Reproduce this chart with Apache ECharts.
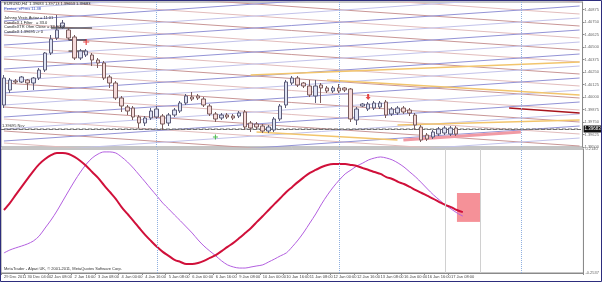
<!DOCTYPE html>
<html>
<head>
<meta charset="utf-8">
<script src="https://cdn.jsdelivr.net/npm/echarts@6.0.0/dist/echarts.min.js"></script>
<style>
html, body { margin: 0; padding: 0; background: #fff; }
#main { width: 602px; height: 282px; }
</style>
</head>
<body>
<div id="main"></div>
<script>
// EURUSD H4 + oscillator pane

// time labels, one every 4 bars
var tickLabels = ['29 Dec 2011', '30 Dec 04:00', '2 Jan 08:00', '2 Jan 16:00', '3 Jan 08:00', '4 Jan 00:00',
  '4 Jan 16:00', '5 Jan 08:00', '6 Jan 00:00', '6 Jan 16:00', '9 Jan 08:00', '10 Jan 00:00', '10 Jan 16:00',
  '11 Jan 08:00', '12 Jan 00:00', '12 Jan 16:00', '13 Jan 08:00', '16 Jan 00:00', '16 Jan 16:00', '17 Jan 08:00'];
var totalSlots = 99;

// candles
var candleOpen = [1.3992, 1.4007, 1.4016, 1.4015, 1.4017, 1.4014, 1.4019, 1.4027, 1.4044, 1.4059,
  1.4070, 1.4067, 1.4060, 1.4039, 1.4042, 1.4042, 1.4037, 1.4034, 1.4020, 1.4014,
  1.3999, 1.3990, 1.3989, 1.3980, 1.3974, 1.3979, 1.3980, 1.3981, 1.3974, 1.3982,
  1.3986, 1.3994, 1.4000, 1.4001, 1.3998, 1.3991, 1.3983, 1.3979, 1.3982, 1.3981,
  1.3981, 1.3985, 1.3974, 1.3973, 1.3971, 1.3966, 1.3967, 1.3978, 1.3992, 1.4014,
  1.4019, 1.4014, 1.4011, 1.4001, 1.4012, 1.4009, 1.4006, 1.4009, 1.4009, 1.4008,
  1.3977, 1.3991, 1.3988, 1.3989, 1.3990, 1.3995, 1.3983, 1.3984, 1.3989, 1.3987,
  1.3982, 1.3970, 1.3962, 1.3960, 1.3963, 1.3964, 1.3963, 1.3969];
var candleClose = [1.4019, 1.4017, 1.4015, 1.4020, 1.4014, 1.4019, 1.4027, 1.4044, 1.4058, 1.4067,
  1.4074, 1.4059, 1.4039, 1.4046, 1.4046, 1.4037, 1.4034, 1.4019, 1.4014, 1.3999,
  1.3991, 1.3986, 1.3980, 1.3974, 1.3979, 1.3986, 1.3988, 1.3973, 1.3982, 1.3987,
  1.3994, 1.4001, 1.3998, 1.3999, 1.3992, 1.3983, 1.3978, 1.3982, 1.3980, 1.3979,
  1.3984, 1.3970, 1.3969, 1.3970, 1.3966, 1.3970, 1.3978, 1.3991, 1.4015, 1.4019,
  1.4012, 1.4011, 1.4002, 1.4011, 1.4009, 1.4006, 1.4009, 1.4006, 1.4007, 1.3978,
  1.3988, 1.3993, 1.3993, 1.3994, 1.3994, 1.3982, 1.3988, 1.3989, 1.3985, 1.3984,
  1.3972, 1.3957, 1.3958, 1.3965, 1.3968, 1.3969, 1.3969, 1.3963];
var candleLow = [1.3989, 1.4004, 1.4013, 1.4014, 1.4007, 1.4007, 1.4017, 1.4025, 1.4042, 1.4057,
  1.4068, 1.4057, 1.4037, 1.4037, 1.4040, 1.4031, 1.4029, 1.4017, 1.4009, 1.3997,
  1.3985, 1.3982, 1.3977, 1.3969, 1.3971, 1.3977, 1.3978, 1.3967, 1.3971, 1.3980,
  1.3984, 1.3992, 1.3996, 1.3997, 1.3990, 1.3981, 1.3975, 1.3977, 1.3978, 1.3977,
  1.3979, 1.3967, 1.3965, 1.3968, 1.3964, 1.3964, 1.3965, 1.3976, 1.3989, 1.4012,
  1.4010, 1.4009, 1.4000, 1.3994, 1.3994, 1.4004, 1.4004, 1.4004, 1.4005, 1.3975,
  1.3972, 1.3990, 1.3986, 1.3987, 1.3988, 1.3979, 1.3981, 1.3982, 1.3983, 1.3981,
  1.3967, 1.3955, 1.3956, 1.3958, 1.3961, 1.3962, 1.3961, 1.3961];
var candleHigh = [1.4022, 1.4019, 1.4018, 1.4021, 1.4018, 1.4020, 1.4029, 1.4045, 1.4062, 1.4082,
  1.4077, 1.4069, 1.4062, 1.4048, 1.4048, 1.4044, 1.4039, 1.4036, 1.4022, 1.4016,
  1.4001, 1.3992, 1.3991, 1.3982, 1.3981, 1.3989, 1.3991, 1.3983, 1.3984, 1.3989,
  1.3996, 1.4003, 1.4005, 1.4003, 1.4000, 1.3993, 1.3985, 1.3984, 1.3984, 1.3983,
  1.3986, 1.3987, 1.3976, 1.3975, 1.3973, 1.3972, 1.3980, 1.3993, 1.4017, 1.4021,
  1.4021, 1.4015, 1.4017, 1.4017, 1.4014, 1.4011, 1.4011, 1.4013, 1.4010, 1.4009,
  1.3990, 1.3994, 1.3995, 1.3996, 1.3996, 1.3997, 1.3990, 1.3991, 1.3991, 1.3989,
  1.3984, 1.3972, 1.3964, 1.3967, 1.3970, 1.3971, 1.3971, 1.3971];

// oscillator pane
var oscRed = [-0.016, 0.010, 0.041, 0.071, 0.101, 0.131, 0.157, 0.176, 0.191, 0.199,
  0.199, 0.195, 0.184, 0.169, 0.150, 0.127, 0.105, 0.078, 0.052, 0.026,
  -0.005, -0.031, -0.057, -0.084, -0.110, -0.133, -0.155, -0.174, -0.189, -0.204,
  -0.212, -0.220, -0.220, -0.216, -0.208, -0.197, -0.186, -0.171, -0.155, -0.140,
  -0.122, -0.103, -0.084, -0.061, -0.039, -0.016, 0.007, 0.029, 0.052, 0.071,
  0.090, 0.108, 0.124, 0.135, 0.146, 0.154, 0.157, 0.157, 0.157, 0.154,
  0.150, 0.142, 0.135, 0.127, 0.120, 0.108, 0.101, 0.090, 0.082, 0.071,
  0.059, 0.048, 0.037, 0.026, 0.014, 0.003, -0.005, -0.016, -0.024];
var oscPurple = [-0.178, -0.167, -0.159, -0.152, -0.144, -0.133, -0.114, -0.084, -0.054, -0.020,
  0.018, 0.056, 0.093, 0.127, 0.157, 0.180, 0.195, 0.203, 0.203, 0.199,
  0.184, 0.165, 0.142, 0.116, 0.090, 0.063, 0.037, 0.010, -0.012, -0.035,
  -0.057, -0.080, -0.103, -0.129, -0.152, -0.171, -0.189, -0.208, -0.223, -0.231,
  -0.235, -0.235, -0.231, -0.227, -0.223, -0.212, -0.201, -0.189, -0.178, -0.155,
  -0.129, -0.099, -0.065, -0.031, 0.007, 0.041, 0.071, 0.097, 0.120, 0.135,
  0.150, 0.161, 0.173, 0.180, 0.184, 0.180, 0.173, 0.161, 0.146, 0.127,
  0.108, 0.086, 0.063, 0.041, 0.022, 0.003, -0.012, -0.027, -0.039];
var oscMin = -0.2537;
var oscMax = 0.2140;
var oscBox = [[77, 0.048], [81, -0.061]];

// fan lines (price at first bar -> price at last slot)
var redFanStart = [1.4134, 1.4122, 1.4110, 1.4098, 1.4086, 1.4074, 1.4062, 1.4050, 1.4038, 1.4026, 1.4014, 1.4002, 1.3990, 1.3978, 1.3966, 1.3954];
var redFanEnd   = [1.4095, 1.4083, 1.4071, 1.4059, 1.4047, 1.4035, 1.4023, 1.4011, 1.3999, 1.3987, 1.3975, 1.3963, 1.3951, 1.3939, 1.3927, 1.3915];
var blueFanStart = [1.4100, 1.4088, 1.4076, 1.4064, 1.4052, 1.4040, 1.4028, 1.4016, 1.4004, 1.3992, 1.3980, 1.3968, 1.3956, 1.3944, 1.3932, 1.3920];
var blueFanEnd   = [1.4139, 1.4127, 1.4115, 1.4103, 1.4091, 1.4079, 1.4067, 1.4055, 1.4043, 1.4031, 1.4019, 1.4007, 1.3995, 1.3983, 1.3971, 1.3959];
// other trend segments [bar, price, bar, price]
var yellowSegs = [[42, 1.4022, 98, 1.4035], [55, 1.4017, 98, 1.4002], [43, 1.3965, 67, 1.3957], [67, 1.3972, 98, 1.3977]];
var pinkSeg = [68, 1.3957, 88, 1.3965];
var darkRedSeg = [86, 1.3989, 98, 1.3984];
var blackSegs = [[8, 1.4069, 15, 1.4069], [11, 1.4057, 14, 1.4057], [11, 1.4046, 14, 1.4046]];

var priceMin = 1.3950, priceMax = 1.4095, priceStep = 0.00125;
var lastPrice = 1.3968;
var vLinesBoth = [26, 57, 88];
var vLinesLow = [75, 81];
var redCross = [[14, 1.4055]];
var redArrow = [[62, 1.4000]];
var greenCross = [[36, 1.3960]];

var infoText = ['EURUSD,H4  1.39683 1.39713 1.39653 1.39683', 'Pentax_ePrms 11.38', '',
  'Johnny Vexis Autoz = 11:01', 'CandleX 1 Filter   = 33.0', 'CandleXTR Ohm Close = 33.9001', 'CandleX 1.39695 -> 0'];

var categories = [];
for (var i = 0; i < totalSlots; i++) {
  var k = Math.floor(i / 4);
  if (k < tickLabels.length) categories.push(i % 4 === 0 ? tickLabels[k] : tickLabels[k] + '#' + i);
  else categories.push('s' + i);
}

var FONT = 'Liberation Sans';
var chart = echarts.init(document.getElementById('main'), null, { renderer: 'canvas' });

var series = [];
function seg(x1, y1, x2, y2, color, width, z) {
  var s = {
    type: 'line', xAxisIndex: 0, yAxisIndex: 0, silent: true, showSymbol: false, z: z || 2,
    lineStyle: { color: color, width: width || 1 },
    data: [[x1, y1], [x2, y2]]
  };
  series.push(s);
  return s;
}
redFanStart.forEach(function (p, i) { seg(0, p, 98, redFanEnd[i], i % 2 ? '#e2bcbc' : '#c99696', 1); });
blueFanStart.forEach(function (p, i) { seg(0, p, 98, blueFanEnd[i], i % 2 ? '#c2c2ea' : '#9393d6', 1); });
yellowSegs.forEach(function (s) { seg(s[0], s[1], s[2], s[3], '#f2c56c', 1.5); });
seg(pinkSeg[0], pinkSeg[1], pinkSeg[2], pinkSeg[3], '#f19aa4', 3);
seg(darkRedSeg[0], darkRedSeg[1], darkRedSeg[2], darkRedSeg[3], '#a8141c', 1.5);
blackSegs.forEach(function (s) { seg(s[0], s[1], s[2], s[3], '#222', 1, 4); });

// last price line with its labels
var pl = seg(0, lastPrice, 98, lastPrice, '#707070', 1, 4);
pl.lineStyle.type = 'dashed';
pl.endLabel = { show: true, formatter: '1.39683', backgroundColor: '#111', color: '#fff',
  fontSize: 4.5, fontFamily: FONT, padding: [1, 1], distance: 4 };
pl.markLine = {
  silent: true, symbol: 'none', animation: false, precision: 5,
  lineStyle: { type: 'dashed', color: '#707070', width: 1 },
  label: { show: true, position: 'insideStartTop', formatter: '1.39695 Ncv', color: '#333',
    fontSize: 4, fontFamily: FONT, distance: 1 },
  data: [{ yAxis: lastPrice }]
};

series.push({
  type: 'candlestick', xAxisIndex: 0, yAxisIndex: 0, z: 5, barWidth: 4,
  data: candleOpen.map(function (o, i) { return [o, candleClose[i], candleLow[i], candleHigh[i]]; }),
  itemStyle: { color: '#dfe3f4', color0: '#f5dada', borderColor: '#5c5c78', borderColor0: '#7a5c5c', borderWidth: 1 },
  markLine: {
    silent: true, symbol: 'none', animation: false, label: { show: false },
    lineStyle: { type: 'dotted', color: '#8fb0e0', width: 1 },
    data: vLinesBoth.map(function (x) { return { xAxis: x }; })
  }
});

var crossPath = 'path://M4,0L6,0L6,4L10,4L10,6L6,6L6,10L4,10L4,6L0,6L0,4L4,4Z';
series.push({ type: 'scatter', xAxisIndex: 0, yAxisIndex: 0, z: 6, silent: true, symbol: crossPath, symbolSize: 6,
  itemStyle: { color: '#e01a1a' }, data: redCross });
series.push({ type: 'scatter', xAxisIndex: 0, yAxisIndex: 0, z: 6, silent: true,
  symbol: 'path://M3,0L7,0L7,5L10,5L5,10L0,5L3,5Z', symbolSize: [5, 6],
  itemStyle: { color: '#e01a1a' }, data: redArrow });
series.push({ type: 'scatter', xAxisIndex: 0, yAxisIndex: 0, z: 6, silent: true, symbol: crossPath, symbolSize: 5,
  itemStyle: { color: '#22aa22' }, data: greenCross });

// oscillator
series.push({
  type: 'line', xAxisIndex: 1, yAxisIndex: 1, silent: true, showSymbol: false, smooth: 0.3, z: 3,
  lineStyle: { color: '#b35fe0', width: 1 }, data: oscPurple
});
series.push({
  type: 'line', xAxisIndex: 1, yAxisIndex: 1, silent: true, showSymbol: false, smooth: 0.3, z: 4,
  lineStyle: { color: '#d0103a', width: 2 }, data: oscRed,
  markArea: {
    silent: true,
    itemStyle: { color: 'rgba(242,118,126,0.8)' },
    data: [[{ xAxis: oscBox[0][0], yAxis: oscBox[0][1] }, { xAxis: oscBox[1][0], yAxis: oscBox[1][1] }]]
  },
  markLine: {
    silent: true, symbol: 'none', animation: false, label: { show: false },
    data: vLinesBoth.map(function (x) {
      return { xAxis: x, lineStyle: { type: 'dotted', color: '#8fb0e0', width: 1 } };
    }).concat(vLinesLow.map(function (x) {
      return { xAxis: x, lineStyle: { type: 'solid', color: '#d0d0d0', width: 1 } };
    }))
  }
});

var graphics = [{
  type: 'rect', shape: { x: 0.5, y: 0.5, width: 601, height: 281 }, z: 100, silent: true,
  style: { fill: 'none', stroke: '#2d2d7d', lineWidth: 1 }
}, {
  type: 'text', left: 4, top: 267, silent: true, z: 100,
  style: { text: 'MetaTrader - Alpari UK, \u00a9 2001-2011, MetaQuotes Software Corp.', fill: '#333', font: '4px ' + FONT }
}];
infoText.forEach(function (t, i) {
  if (!t) return;
  graphics.push({
    type: 'text', left: 4, top: 2 + i * 4.6, silent: true, z: 100,
    style: { text: t, fill: i === 1 ? '#2a46b8' : '#222', font: '4px ' + FONT }
  });
});

var labelEvery4 = function (idx) { return idx % 4 === 0 && idx / 4 < tickLabels.length; };

chart.setOption({
  animation: false,
  backgroundColor: '#ffffff',
  grid: [
    { left: 1, right: 16, top: 2, height: 145, show: true, borderColor: '#8a8a8a', borderWidth: 1 },
    { left: 1, right: 16, top: 149, height: 124, show: true, borderColor: '#8a8a8a', borderWidth: 1 }
  ],
  xAxis: [
    { type: 'category', gridIndex: 0, data: categories, boundaryGap: true,
      axisLine: { show: false }, axisTick: { show: false }, axisLabel: { show: false }, splitLine: { show: false } },
    { type: 'category', gridIndex: 1, data: categories, boundaryGap: true,
      axisLine: { onZero: false, lineStyle: { color: '#8a8a8a' } },
      axisTick: { show: true, length: 2, lineStyle: { color: '#8a8a8a' }, interval: labelEvery4 },
      axisLabel: { show: true, fontSize: 4, fontFamily: FONT, color: '#444', margin: 2, align: 'left', interval: labelEvery4 },
      splitLine: { show: false } }
  ],
  yAxis: [
    { type: 'value', gridIndex: 0, position: 'right', min: priceMin, max: priceMax, interval: priceStep,
      axisLine: { show: true, lineStyle: { color: '#8a8a8a' } },
      axisTick: { show: true, length: 2, lineStyle: { color: '#8a8a8a' } },
      axisLabel: { fontSize: 4, fontFamily: FONT, color: '#666', margin: 2, showMaxLabel: false,
        formatter: function (v) { return v.toFixed(5); } },
      splitLine: { show: false } },
    { type: 'value', gridIndex: 1, position: 'right', min: oscMin, max: oscMax,
      axisLine: { show: true, lineStyle: { color: '#8a8a8a' } },
      axisTick: { show: false },
      axisLabel: { fontSize: 4, fontFamily: FONT, color: '#666', margin: 2, showMinLabel: true, showMaxLabel: true,
        formatter: function (v) {
          if (Math.abs(v - oscMax) < 1e-6) return oscMax.toFixed(4);
          if (Math.abs(v - oscMin) < 1e-6) return oscMin.toFixed(4);
          return '';
        } },
      splitLine: { show: false } }
  ],
  graphic: graphics,
  series: series
});
</script>
</body>
</html>
